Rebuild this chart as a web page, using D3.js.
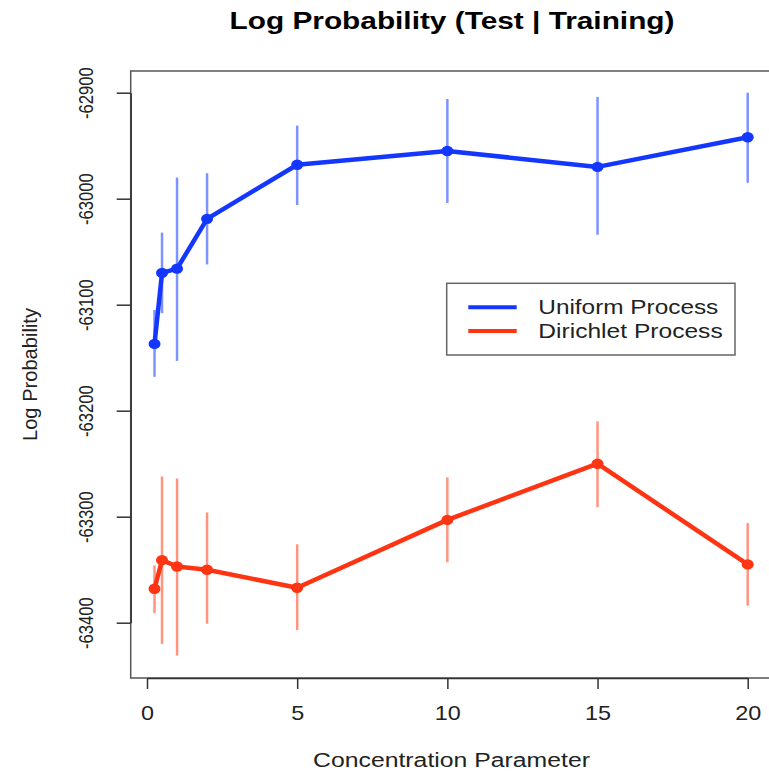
<!DOCTYPE html>
<html>
<head>
<meta charset="utf-8">
<script src="https://cdn.jsdelivr.net/npm/d3@7"></script>
<style>
	html, body { margin: 0; padding: 0; background: #fff; }
	svg { display: block; font-family: "Liberation Sans", Arial, Helvetica, sans-serif; }
</style>
</head>
<body>
<div id="chart"></div>
<script>
// Log Probability chart - D3 version
(function() {
	'use strict';

	// Data
	const concentration = [0.25, 0.5, 1, 2, 5, 10, 15, 20];

	const uniformMean  = [-63137, -63070, -63066, -63019, -62968, -62955, -62970, -62942];
	const uniformLow   = [-63168, -63108, -63153, -63062, -63006, -63004, -63034, -62985];
	const uniformHigh  = [-63105, -63032, -62980, -62976, -62931, -62906, -62904, -62900];

	const dirichletMean = [-63368, -63341, -63347, -63350, -63367, -63303, -63250, -63345];
	const dirichletLow  = [-63391, -63420, -63431, -63401, -63407, -63343, -63291, -63384];
	const dirichletHigh = [-63346, -63262, -63264, -63296, -63326, -63263, -63210, -63306];

	const xTicks = [0, 5, 10, 15, 20];
	const yTicks = [-62900, -63000, -63100, -63200, -63300, -63400];

	const seriesNames = ['Uniform Process', 'Dirichlet Process'];

	const width = 769;
	const height = 772;

	// plot frame (box)
	const frame = { left: 130.7, right: 771, top: 71, bottom: 678 };

	const x = d3.scaleLinear().domain([0, 20]).range([147, 747.7]);
	const y = d3.scaleLinear().domain([-62900, -63400]).range([92.7, 622.7]);

	const series = [
		{ name: seriesNames[0], color: '#1437ff', bar: '#7d93ff',
			mean: uniformMean, low: uniformLow, high: uniformHigh },
		{ name: seriesNames[1], color: '#ff3412', bar: '#ff9580',
			mean: dirichletMean, low: dirichletLow, high: dirichletHigh }
	];

	const svg = d3.select('#chart')
		.append('svg')
		.attr('width', width)
		.attr('height', height);

	// Title
	svg.append('text')
		.attr('x', 452)
		.attr('y', 29)
		.attr('text-anchor', 'middle')
		.attr('font-size', 23)
		.attr('font-weight', 'bold')
		.attr('textLength', 445)
		.attr('lengthAdjust', 'spacingAndGlyphs')
		.text('Log Probability (Test | Training)');

	// Box
	svg.append('rect')
		.attr('x', frame.left)
		.attr('y', frame.top)
		.attr('width', frame.right - frame.left)
		.attr('height', frame.bottom - frame.top)
		.attr('fill', 'none')
		.attr('stroke', '#555')
		.attr('stroke-width', 1.5);

	// Y axis
	const yAxis = svg.append('g')
		.attr('transform', 'translate(' + frame.left + ',0)')
		.call(d3.axisLeft(y).tickValues(yTicks).tickSize(14).tickSizeOuter(0)
			.tickFormat(function(d) { return String(d); }));

	yAxis.select('.domain').attr('stroke', '#333').attr('stroke-width', 1.5);
	yAxis.selectAll('.tick line').attr('stroke', '#333').attr('stroke-width', 1.5);
	yAxis.selectAll('.tick text')
		.attr('x', null)
		.attr('dy', null)
		.attr('fill', '#222')
		.attr('font-size', 20)
		.attr('text-anchor', 'middle')
		.attr('transform', 'translate(-37.5,0) rotate(-90) scale(0.83,1)');

	// X axis
	const xAxis = svg.append('g')
		.attr('transform', 'translate(0,' + frame.bottom + ')')
		.call(d3.axisBottom(x).tickValues(xTicks).tickSize(11).tickSizeOuter(0));

	xAxis.select('.domain').attr('stroke', '#333').attr('stroke-width', 1.5);
	xAxis.selectAll('.tick line').attr('stroke', '#333').attr('stroke-width', 1.5);
	xAxis.selectAll('.tick text')
		.attr('y', null)
		.attr('dy', null)
		.attr('fill', '#222')
		.attr('font-size', 20)
		.attr('text-anchor', 'middle')
		.attr('transform', 'translate(0,42) scale(1.17,1)');

	// Axis titles
	svg.append('text')
		.attr('x', 451.5)
		.attr('y', 767)
		.attr('text-anchor', 'middle')
		.attr('font-size', 20)
		.attr('fill', '#222')
		.attr('textLength', 277)
		.attr('lengthAdjust', 'spacingAndGlyphs')
		.text('Concentration Parameter');

	svg.append('text')
		.attr('transform', 'translate(37,374.5) rotate(-90)')
		.attr('text-anchor', 'middle')
		.attr('font-size', 21)
		.attr('fill', '#222')
		.attr('textLength', 133)
		.attr('lengthAdjust', 'spacingAndGlyphs')
		.text('Log Probability');

	// Error bars
	series.forEach(function(s) {
		svg.append('g')
			.selectAll('line')
			.data(concentration)
			.enter().append('line')
			.attr('x1', function(d) { return x(d); })
			.attr('x2', function(d) { return x(d); })
			.attr('y1', function(d, i) { return y(s.low[i]); })
			.attr('y2', function(d, i) { return y(s.high[i]); })
			.attr('stroke', s.bar)
			.attr('stroke-width', 2.5);
	});

	// Lines and points
	series.forEach(function(s) {
		const line = d3.line()
			.x(function(d) { return x(d); })
			.y(function(d, i) { return y(s.mean[i]); });

		svg.append('path')
			.datum(concentration)
			.attr('d', line)
			.attr('fill', 'none')
			.attr('stroke', s.color)
			.attr('stroke-width', 4.5)
			.attr('stroke-linejoin', 'round');

		svg.append('g')
			.selectAll('ellipse')
			.data(concentration)
			.enter().append('ellipse')
			.attr('cx', function(d) { return x(d); })
			.attr('cy', function(d, i) { return y(s.mean[i]); })
			.attr('rx', 6)
			.attr('ry', 5.2)
			.attr('fill', s.color);
	});

	// Legend
	const legend = svg.append('g');

	legend.append('rect')
		.attr('x', 446.7)
		.attr('y', 283.3)
		.attr('width', 288.3)
		.attr('height', 71.7)
		.attr('fill', '#fff')
		.attr('stroke', '#666')
		.attr('stroke-width', 1.5);

	const legendLen = [180, 184.4];

	series.forEach(function(s, i) {
		const ly = 307.3 + i * 23.7;
		legend.append('line')
			.attr('x1', 468.3)
			.attr('x2', 516.7)
			.attr('y1', ly)
			.attr('y2', ly)
			.attr('stroke', s.color)
			.attr('stroke-width', 4);
		legend.append('text')
			.attr('x', 538.3)
			.attr('y', ly + 7)
			.attr('font-size', 20)
			.attr('fill', '#222')
			.attr('textLength', legendLen[i])
			.attr('lengthAdjust', 'spacingAndGlyphs')
			.text(s.name);
	});
})();
</script>
</body>
</html>
